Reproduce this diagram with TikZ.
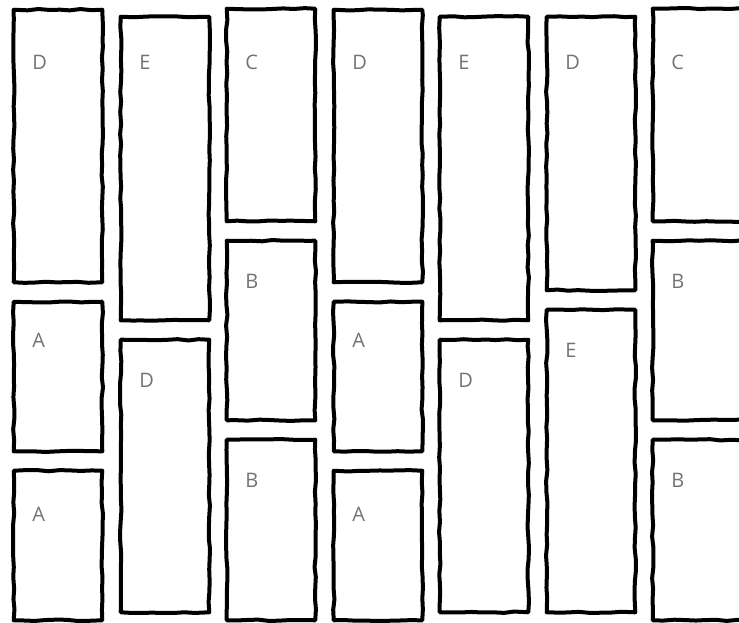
\documentclass[tikz,border=0pt]{standalone}
\usepackage{fontspec}
\setsansfont{Open Sans}
\usetikzlibrary{fit,decorations.pathmorphing}

\begin{document}
\begin{tikzpicture}[x=0.75pt,y=-0.75pt,
        slot/.style={inner sep=0pt},
        tile/.style={draw=black,line width=3pt,line join=round,
                     decorate,decoration={random steps,segment length=8pt,amplitude=0.55pt}},
        tag/.style={anchor=west,inner sep=0pt,text=black!55,
                    font=\sffamily\fontsize{15}{15}\selectfont}]
        \pgfmathsetseed{11}
        \useasboundingbox (0,0) rectangle (739,622);
        \clip (0,0) rectangle (739,622);
        % columns of cards, name/left/width/top/bottom/letter/label y
        \foreach \n/\x/\w/\t/\b/\lbl/\ly in {d1/14/88/10/282/D/62,a1/14/88/302/451/A/340,a2/14/88/471/620/A/514,
            e1/121/88/17/320/E/62,d2/121/88/340/612/D/380,
            c1/227/88/9/221/C/62,b1/227/88/241/420/B/281,b2/227/88/440/620/B/480,
            d3/334/88/10/282/D/62,a3/334/88/302/451/A/340,a4/334/88/471/620/A/514,
            e2/440/88/17/320/E/62,d4/440/88/340/612/D/380,
            d5/547/88/17/290/D/62,e3/547/88/310/612/E/350,
            c2/653/110/9/221/C/62,b3/653/110/241/420/B/281,b4/653/110/440/620/B/480}{
          \node[slot,fit={(\x,\t) (\x+\w,\b)}] (\n) {};
          \draw[tile] (\n.north west) rectangle (\n.south east);
          \node[tag] (\n-l) at (\x+18,\ly) {\lbl};
        }
      \end{tikzpicture}
\end{document}
